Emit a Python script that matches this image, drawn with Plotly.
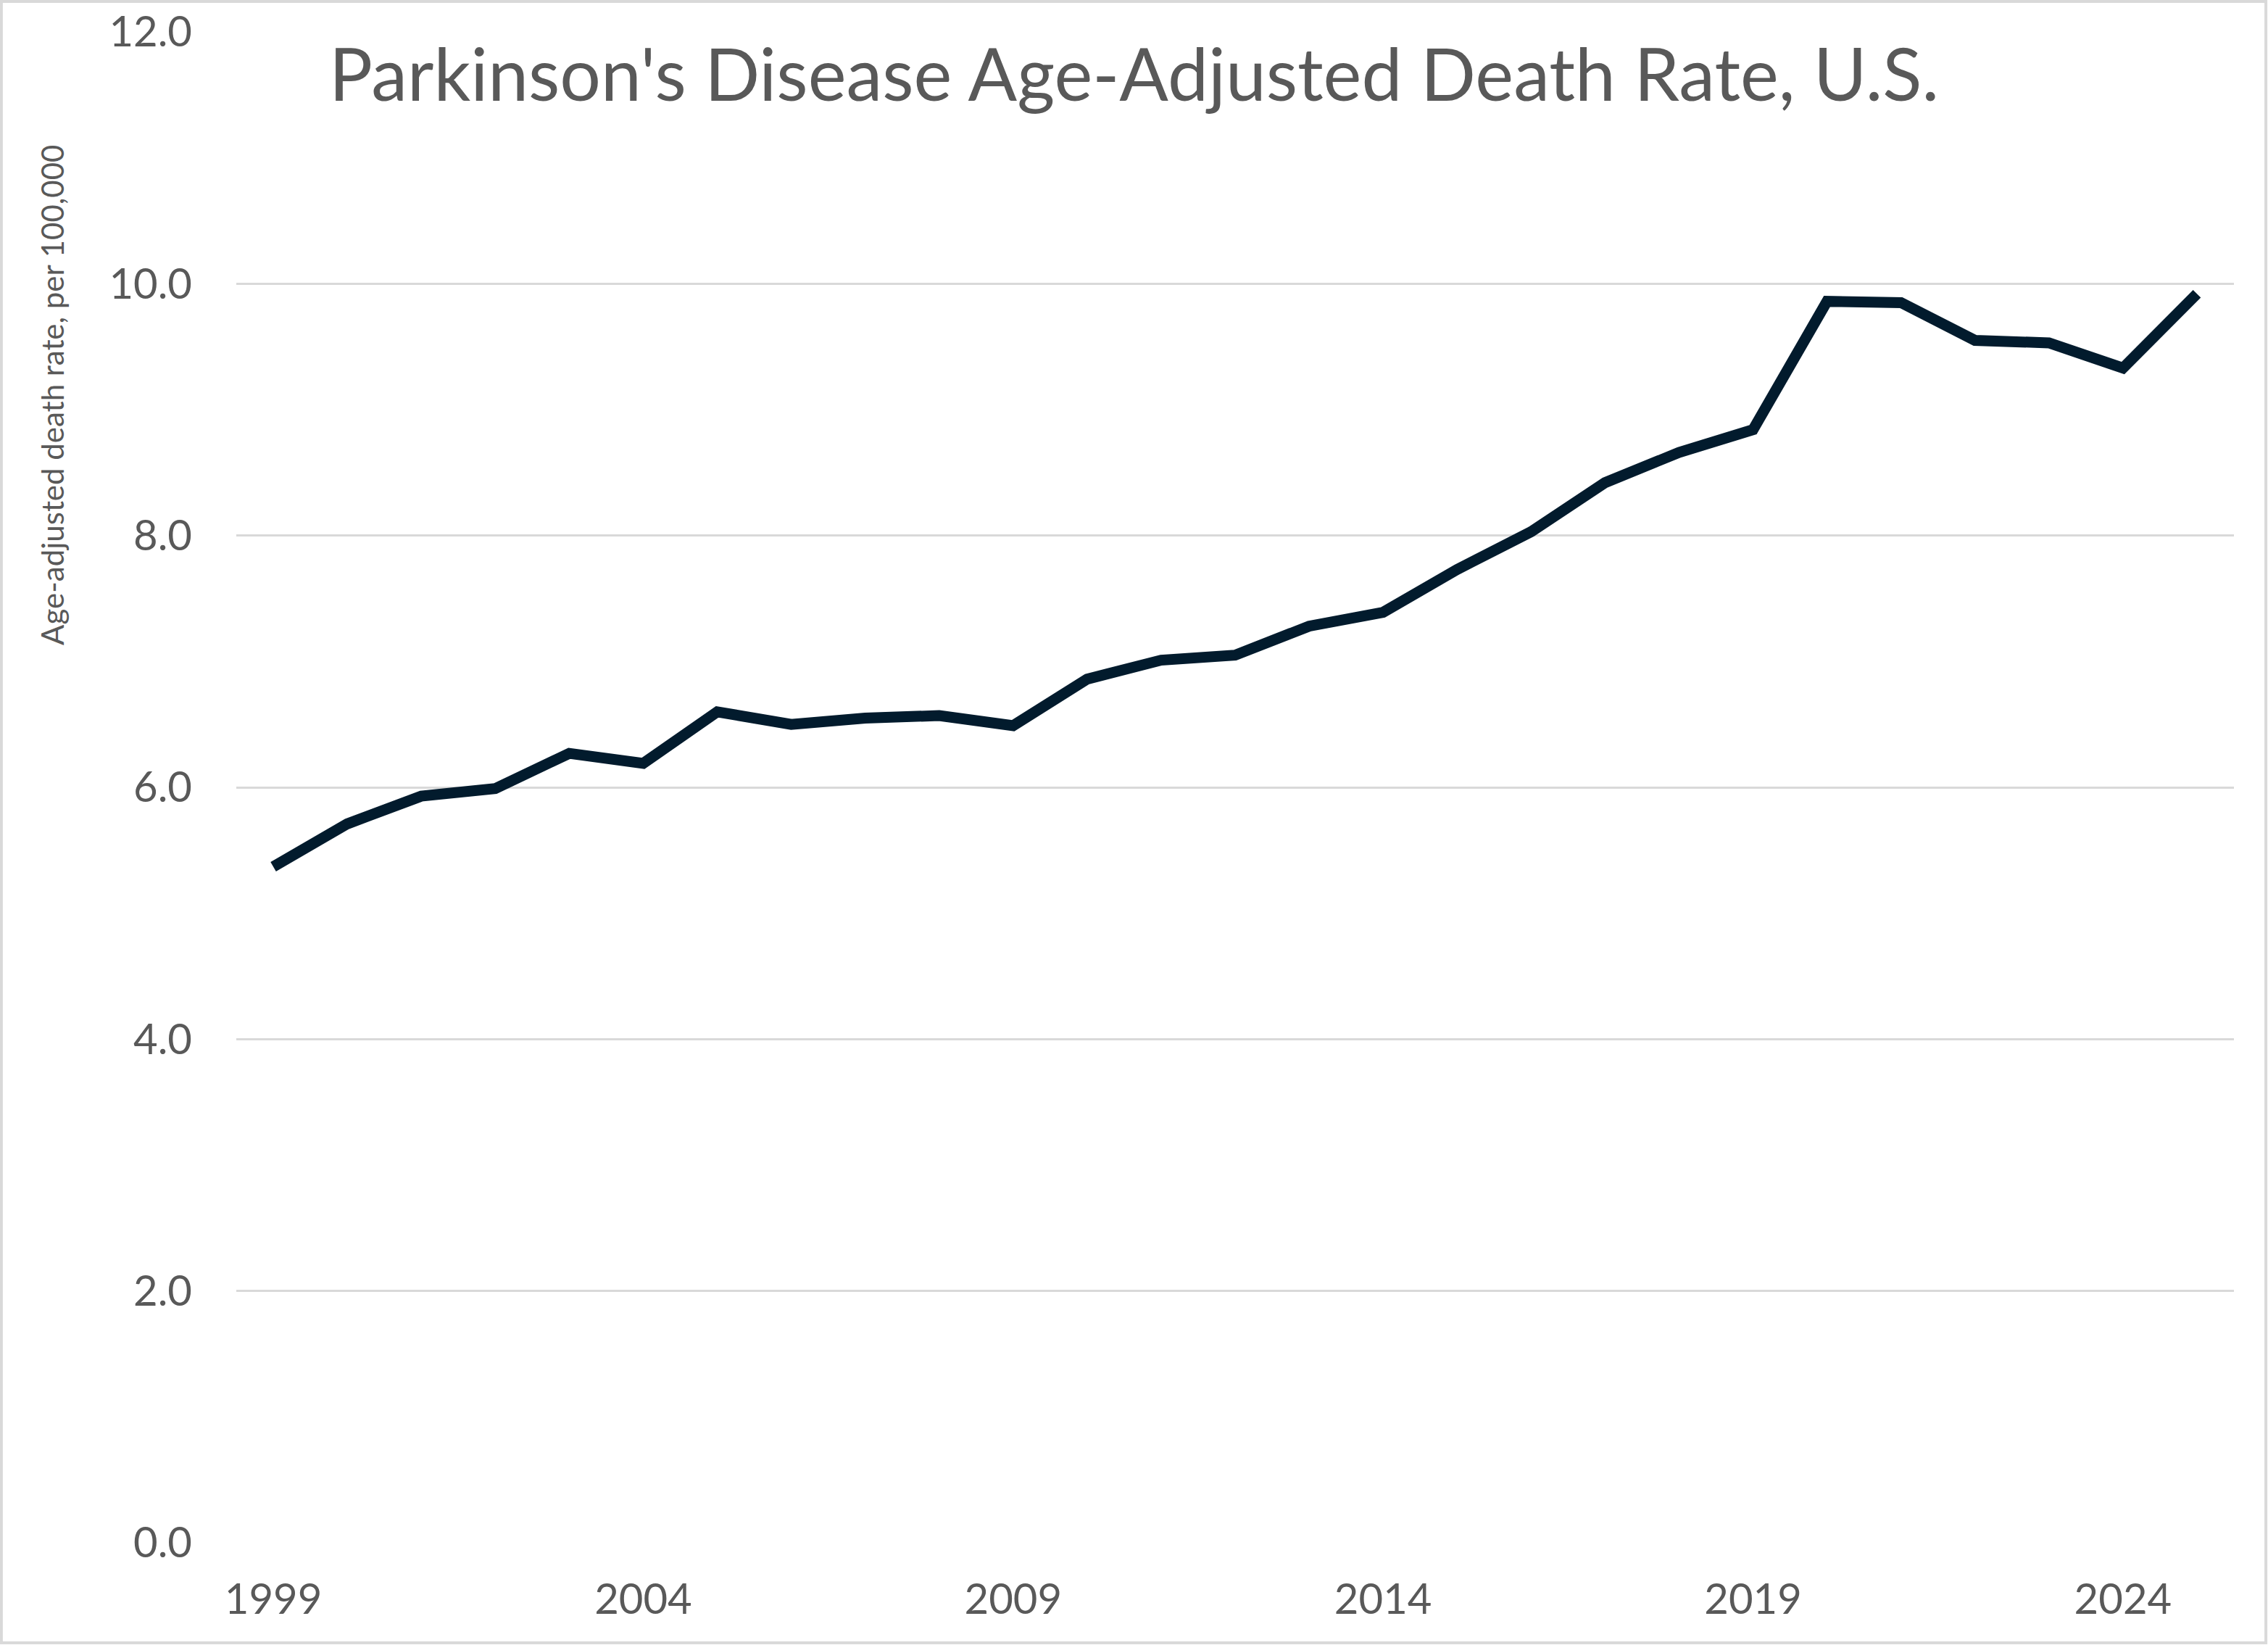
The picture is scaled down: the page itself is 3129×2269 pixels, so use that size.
import plotly.graph_objects as go

# data
years = [1999, 2000, 2001, 2002, 2003, 2004, 2005, 2006, 2007, 2008,
         2009, 2010, 2011, 2012, 2013, 2014, 2015, 2016, 2017, 2018,
         2019, 2020, 2021, 2022, 2023, 2024, 2025]
rates = [5.37, 5.71, 5.93, 5.99, 6.27, 6.19, 6.60, 6.50, 6.55, 6.57,
         6.49, 6.86, 7.01, 7.05, 7.28, 7.39, 7.73, 8.03, 8.42, 8.66,
         8.84, 9.86, 9.85, 9.55, 9.53, 9.33, 9.92]
year_ticks = [1999, 2004, 2009, 2014, 2019, 2024]
rate_ticks = [0, 2, 4, 6, 8, 10, 12]

grey = '#595959'
grid = '#d9d9d9'
font_name = 'Lato'

fig = go.Figure()
fig.add_trace(go.Scatter(x=years, y=rates, mode='lines',
                         line=dict(color='#021b2d', width=15),
                         showlegend=False, hoverinfo='skip'))

xdict = {'range': [1998.5, 2025.5],
         'tickmode': 'array',
         'tickvals': year_ticks,
         'showgrid': False,
         'zeroline': False,
         'showline': False,
         'ticklabelstandoff': 39,
         'tickfont': dict(family=font_name, size=58, color=grey)}
ydict = {'range': [0, 12],
         'tickmode': 'array',
         'tickvals': rate_ticks,
         'tickformat': '.1f',
         'showgrid': True,
         'gridcolor': grid,
         'gridwidth': 3,
         'zeroline': False,
         'showline': False,
         'ticklabelstandoff': 60,
         'tickfont': dict(family=font_name, size=58, color=grey)}

fig.update_layout(width=3129, height=2269,
                  margin=dict(l=326, r=47, t=44, b=141, autoexpand=False),
                  paper_bgcolor='white', plot_bgcolor='white',
                  title=dict(text="Parkinson's Disease Age-Adjusted Death Rate, U.S.",
                             font=dict(family=font_name, size=100, color=grey),
                             x=0.5, xanchor='center', xref='container',
                             y=1 - 104 / 2269, yanchor='middle', yref='container'),
                  xaxis=xdict, yaxis=ydict)

# y axis title sits high on the left, as in the original
fig.add_annotation(text='Age-adjusted death rate, per 100,000',
                   xref='paper', yref='paper', x=-0.0922, y=0.7596,
                   xanchor='center', yanchor='middle', textangle=-90,
                   showarrow=False,
                   font=dict(family=font_name, size=42, color=grey))

# chart-area border like the original spreadsheet chart
fig.add_shape(type='rect', xref='paper', yref='paper',
              x0=-0.1176, x1=1.016, y0=-0.0662, y1=1.0202,
              line=dict(color=grid, width=4), layer='below')

fig.write_html("out.html", config={'displayModeBar': False},
               post_script="document.body.style.margin = '0';")
